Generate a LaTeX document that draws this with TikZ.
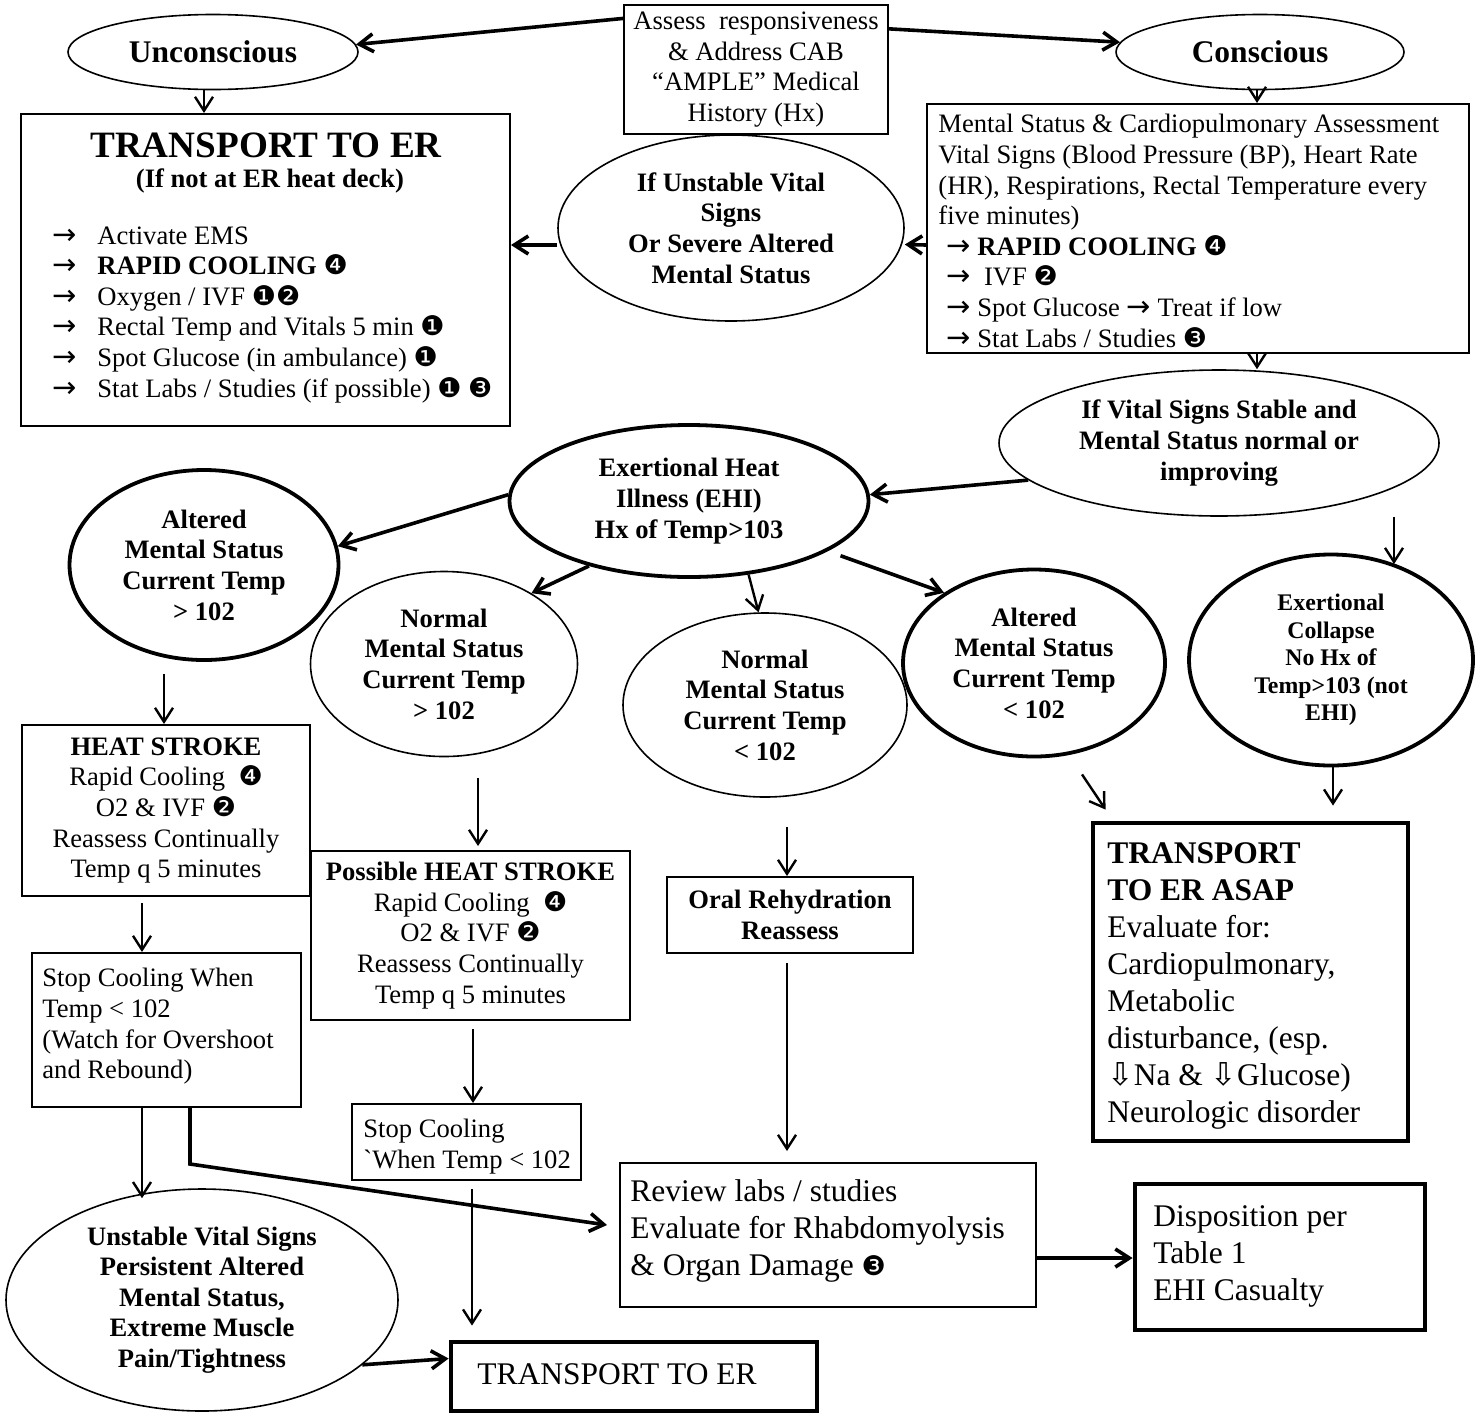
\documentclass[tikz,border=0pt]{standalone}
\usepackage{fontspec}
\setmainfont{Liberation Serif}
\newfontfamily\dejavu{DejaVu Sans}
\usetikzlibrary{shapes.geometric,arrows.meta,calc}
\newcommand\fA{\fontsize{13.3}{15.3}\selectfont}
\newcommand\fB{\fontsize{15.75}{18.5}\selectfont}
\newcommand\fC{\fontsize{11.9}{13.75}\selectfont}
\newcommand\circnum[1]{{\dejavu\fontsize{13.5}{13.5}\selectfont #1}}
\newcommand\myra{{\dejavu\fontsize{14.5}{14.5}\selectfont →}}
\newcommand\myli[1]{\makebox[22.5pt][l]{\myra}#1}
\tikzset{
  box/.style={draw, line width=1pt, rectangle, inner sep=0pt},
  tbox/.style={draw, line width=2.4pt, rectangle, inner sep=0pt},
  ell/.style={draw, ellipse, line width=0.8pt, inner sep=0pt, align=center, font=\fA\bfseries},
  tell/.style={ell, line width=1.9pt},
  arr/.style={-{Straight Barb[length=7pt,width=9pt]}, line width=1.2pt},
  tarr/.style={arr, line width=1.8pt},
  txt/.style={inner sep=0pt, align=left, anchor=north west},
}
\begin{document}
\begin{tikzpicture}[x=0.5pt,y=-0.5pt]
\fill[white] (0,0) rectangle (1481,1414);
\useasboundingbox (0,0) rectangle (1481,1414);

% top row
\node[box, minimum width=132pt, minimum height=64.5pt, align=center, font=\fA] (bAssess) at (756,69.5)
  {Assess\ \ responsiveness\\ \& Address CAB\\ “AMPLE” Medical\\ History (Hx)};
\node[ell, minimum width=145pt, minimum height=37.5pt, font=\fB\bfseries] (eUnc) at (213,52) {Unconscious};
\node[ell, minimum width=144pt, minimum height=37.5pt, font=\fB\bfseries] (eCon) at (1260,52) {Conscious};

% transport box (left)
\node[box, minimum width=244.5pt, minimum height=156pt] (bTrans) at (265.5,270) {};
\node[inner sep=0pt, font=\fontsize{18.6}{20}\selectfont\bfseries] (tTitle) at (266,145) {TRANSPORT TO ER};
\node[inner sep=0pt, font=\fA\bfseries] (tSub) at (270,181) {(If not at ER heat deck)};
\node[txt, font=\fA] (tList) at (52,226)
  {\myli{Activate EMS}\\
   \myli{\textbf{RAPID COOLING} \circnum{❹}}\\
   \myli{Oxygen / IVF \circnum{❶❷}}\\
   \myli{Rectal Temp and Vitals 5 min \circnum{❶}}\\
   \myli{Spot Glucose (in ambulance) \circnum{❶}}\\
   \myli{Stat Labs / Studies (if possible) \circnum{❶} \circnum{❸}}};

% mental status box (right)
\node[box, minimum width=271pt, minimum height=124.5pt] (bMS) at (1198,228.5) {};
\node[txt, font=\fA] (tMS) at (938,114)
  {Mental Status \& Cardiopulmonary Assessment\\
   Vital Signs (Blood Pressure (BP), Heart Rate\\
   (HR), Respirations, Rectal Temperature every\\
   five minutes)\\
   \hspace*{4pt}\myra\ \textbf{RAPID COOLING} \circnum{❹}\\
   \hspace*{4pt}\myra\ \ IVF \circnum{❷}\\
   \hspace*{4pt}\myra\ Spot Glucose \myra\ Treat if low\\
   \hspace*{4pt}\myra\ Stat Labs / Studies \circnum{❸}};

% ellipses
\node[ell, minimum width=173pt, minimum height=93pt] (eUnst) at (731,228)
  {If Unstable Vital\\ Signs\\ Or Severe Altered\\ Mental Status};
\node[ell, minimum width=220pt, minimum height=73pt] (eVS) at (1219,443)
  {If Vital Signs Stable and\\ Mental Status normal or\\ improving};
\node[tell, minimum width=179.5pt, minimum height=76pt] (eEHI) at (689,501)
  {Exertional Heat\\ Illness (EHI)\\ Hx of Temp>103};
\node[tell, minimum width=134.5pt, minimum height=95pt] (eA1) at (204,565)
  {Altered\\ Mental Status\\ Current Temp\\ > 102};
\node[ell, minimum width=133.5pt, minimum height=92.5pt] (eN1) at (444,664)
  {Normal\\ Mental Status\\ Current Temp\\ > 102};
\node[ell, minimum width=142pt, minimum height=92pt] (eN2) at (765,705)
  {Normal\\ Mental Status\\ Current Temp\\ < 102};
\node[tell, minimum width=131pt, minimum height=93.5pt] (eA2) at (1034,663)
  {Altered\\ Mental Status\\ Current Temp\\ < 102};
\node[tell, minimum width=142pt, minimum height=105.5pt, font=\fC\bfseries] (eCol) at (1331,660)
  {Exertional\\ Collapse\\ No Hx of\\ Temp>103 (not\\ EHI)};
\node[ell, minimum width=196pt, minimum height=111pt] (eUV) at (202,1300)
  {Unstable Vital Signs\\ Persistent Altered\\ Mental Status,\\ Extreme Muscle\\ Pain/Tightness};

% lower boxes
\node[box, minimum width=144pt, minimum height=85.5pt, align=center, font=\fA] (bHS) at (166,810.5)
  {\textbf{HEAT STROKE}\\ Rapid Cooling \ \circnum{❹}\\ O2 \& IVF \circnum{❷}\\ Reassess Continually\\ Temp q 5 minutes};
\node[box, minimum width=134.5pt, minimum height=77pt] (bStop1) at (166.5,1030) {};
\node[txt, font=\fA] (tStop1) at (42,968)
  {Stop Cooling When\\ Temp < 102\\ (Watch for Overshoot\\ and Rebound)};
\node[box, minimum width=159.5pt, minimum height=84.5pt, align=center, font=\fA] (bPHS) at (470.5,935.5)
  {\textbf{Possible HEAT STROKE}\\ Rapid Cooling \ \circnum{❹}\\ O2 \& IVF \circnum{❷}\\ Reassess Continually\\ Temp q 5 minutes};
\node[box, minimum width=114.5pt, minimum height=38pt] (bStop2) at (466.5,1142) {};
\node[txt, font=\fA] (tStop2) at (363,1119)
  {Stop Cooling\\ \textasciigrave When Temp < 102};
\node[box, minimum width=123pt, minimum height=38pt, align=center, font=\fA\bfseries] (bOral) at (790,915)
  {Oral Rehydration\\ Reassess};
\node[box, minimum width=208pt, minimum height=72pt] (bReview) at (828,1235) {};
\node[txt, font=\fB] (tReview) at (630,1179)
  {Review labs / studies\\ Evaluate for Rhabdomyolysis\\ \& Organ Damage \circnum{❸}};
\node[tbox, minimum width=157.5pt, minimum height=159pt] (bASAP) at (1250.5,982) {};
\node[txt, font=\fB] (tASAP) at (1107,842)
  {\textbf{TRANSPORT}\\ \textbf{TO ER ASAP}\\ Evaluate for:\\ Cardiopulmonary,\\ Metabolic\\ disturbance, (esp.\\
   {\dejavu ⇩}Na \& {\dejavu ⇩}Glucose)\\ Neurologic disorder};
\node[tbox, minimum width=145pt, minimum height=73pt] (bDisp) at (1280,1257) {};
\node[txt, font=\fB] (tDisp) at (1153,1205)
  {Disposition per\\ Table 1\\ EHI Casualty};
\node[tbox, minimum width=183pt, minimum height=34.5pt] (bTER) at (634,1376.5) {};
\node[txt, font=\fB] (tTER) at (477,1363) {TRANSPORT TO ER};

% connectors
\draw[tarr] (bAssess.159.4) -- (eUnc.3);
\draw[tarr] (bAssess.17.8) -- (eCon.176);
\draw[arr] ([xshift=-4.5pt]eUnc.south) -- ([xshift=-4.5pt]eUnc.south |- bTrans.north);
\draw[arr] ([xshift=-1.5pt]eCon.south) -- ([xshift=-1.5pt]eCon.south |- bMS.north);
\draw[tarr] ([yshift=-8.25pt]bMS.west) -- ([yshift=-8.25pt]eUnst.east);
\draw[tarr] ([yshift=-8.5pt]eUnst.west) -- ([yshift=-8.5pt]eUnst.west -| bTrans.east);
\draw[arr] ([xshift=29.5pt]bMS.south) -- ([xshift=19pt]eVS.north);
\draw[tarr] (eVS.191) -- (eEHI.2.5);
\draw[tarr] (eEHI.178) -- (eA1.8.7);
\draw[tarr] (eEHI.213) -- (eN1.39);
\draw[arr] (eEHI.309) -- (eN2.94);
\draw[tarr] ([xshift=5pt,yshift=-3pt]eEHI.341.5) -- (eA2.142);
\draw[arr] ([xshift=87.5pt]eVS.south) -- ([xshift=87.5pt]eVS.south |- eCol.56);
\draw[arr] ([xshift=-20pt,yshift=-6pt]eA1.south) -- ([xshift=-20pt]eA1.south |- bHS.north);
\draw[arr] ([xshift=-12pt,yshift=-3pt]bHS.south) -- ([xshift=-12pt]bHS.south |- bStop1.north);
\draw[arr, shorten >=2pt] ([xshift=17pt,yshift=-10.5pt]eN1.south) -- ([xshift=17pt]eN1.south |- bPHS.north);
\draw[arr] ([xshift=1.25pt,yshift=-4pt]bPHS.south) -- ([xshift=1.25pt]bPHS.south |- bStop2.north);
\draw[arr, shorten >=7pt] ([xshift=2.75pt,yshift=-4pt]bStop2.south) -- ([xshift=2.75pt]bStop2.south |- bTER.north);
\draw[arr] ([xshift=11pt,yshift=-14.5pt]eN2.south) -- ([xshift=11pt]eN2.south |- bOral.north);
\draw[arr, shorten >=5.5pt] ([xshift=-1.5pt,yshift=-4.5pt]bOral.south) -- ([xshift=-1.5pt]bOral.south |- bReview.north);
\draw[arr] ([xshift=24pt,yshift=-8pt]eA2.south) -- ([xshift=7.5pt,yshift=5.5pt]bASAP.north west);
\draw[arr, shorten >=7.5pt] ([xshift=1pt]eCol.south) -- ([xshift=1pt]eCol.south |- bASAP.north);
\draw[tarr] ([yshift=-11.5pt]bReview.east) -- ([yshift=-11.5pt]bReview.east -| bDisp.west);
\draw[arr] ([xshift=-12.25pt]bStop1.south) -- ([xshift=-30pt,yshift=-5pt]eUV.north);
\draw[tarr] ([xshift=11.75pt]bStop1.south) -- ++(0,-28pt) -- ([xshift=-6pt,yshift=5pt]bReview.west);
\draw[tarr] (eUV.338.8) -- ([yshift=9pt]bTER.west);
\end{tikzpicture}
\end{document}
